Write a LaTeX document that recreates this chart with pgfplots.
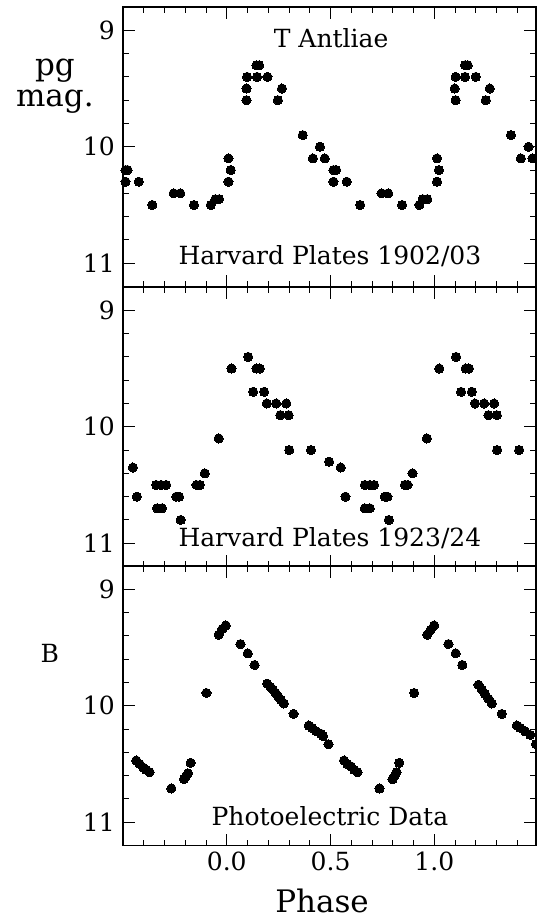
\documentclass[border=0pt]{standalone}
\usepackage{pgfplots}
\pgfplotsset{compat=1.18}
\usepackage{fontspec}
\setmainfont{DejaVu Serif}
\newcommand\bigf{\fontsize{25}{28}\selectfont}
\newcommand\hugef{\fontsize{31}{31}\selectfont}
\pgfplotsset{
  dots/.style={black, only marks, mark=*, mark size=4.6pt, mark options={fill=black, draw=black, line width=0pt}},
  panel/.style={
    scale only axis, width=413pt, height=279.5pt,
    xmin=-0.5, xmax=1.49, ymin=8.8, ymax=11.2, y dir=reverse,
    xtick={0,0.5,1},
    minor xtick={-0.4,-0.3,-0.2,-0.1,0.1,0.2,0.3,0.4,0.6,0.7,0.8,0.9,1.1,1.2,1.3,1.4},
    ytick={9,10,11},
    minor ytick={9.2,9.4,9.6,9.8,10.2,10.4,10.6,10.8},
    tick pos=both, tick align=inside,
    major tick length=12pt, minor tick length=6pt,
    every tick/.style={black, line width=0.9pt},
    axis line style={line width=1.6pt},
    xticklabel pos=lower, yticklabel pos=left,
    ticklabel style={font=\bigf},
    /pgf/number format/assume math mode=true,
    yticklabel style={inner sep=0pt, xshift=-8pt},
    xticklabel style={yshift=-3pt},
    clip mode=individual,
  },
}
\begin{document}
\begin{tikzpicture}
\useasboundingbox (0,0) rectangle (536pt,-920pt);
% Panel 1
\begin{axis}[panel, at={(123pt,-7pt)}, anchor=north west, xticklabels={}]
\addplot[dots] coordinates {
(-0.488,10.2) (-0.478,10.2) (-0.488,10.3) (-0.424,10.3) (-0.359,10.5) (-0.256,10.4) (-0.224,10.4) (-0.158,10.5) (-0.077,10.5) (-0.055,10.45) (-0.037,10.45) (0.008,10.3) (0.019,10.2) (0.008,10.1) (0.095,9.6) (0.095,9.5) (0.098,9.4) (0.143,9.3) (0.156,9.3) (0.146,9.4) (0.196,9.4) (0.246,9.6) (0.266,9.5) (0.366,9.9) (0.449,10.0) (0.415,10.1) (0.472,10.1) (0.514,10.2) (0.527,10.2) (0.514,10.3) (0.578,10.3) (0.643,10.5) (0.746,10.4) (0.778,10.4) (0.845,10.5) (0.928,10.5) (0.944,10.45) (0.966,10.45) (1.013,10.3) (1.022,10.2) (1.013,10.1) (1.103,9.6) (1.098,9.5) (1.103,9.4) (1.148,9.3) (1.161,9.3) (1.148,9.4) (1.200,9.4) (1.248,9.6) (1.267,9.5) (1.369,9.9) (1.454,10.0) (1.417,10.1) (1.473,10.1) (1.512,10.2)
};
\node[font=\bigf] at (rel axis cs:0.504,0.889) {T Antliae};
\node[font=\bigf] at (rel axis cs:0.501,0.107) {Harvard Plates 1902/03};
\node[font=\hugef, align=center, inner sep=0pt] at (rel axis cs:-0.165,0.718) {pg\\mag.};
\end{axis}
% Panel 2
\begin{axis}[panel, at={(123pt,-287pt)}, anchor=north west, xticklabels={}]
\addplot[dots] coordinates {
(-0.452,10.35) (-0.433,10.6) (-0.340,10.5) (-0.316,10.5) (-0.292,10.5) (-0.336,10.7) (-0.312,10.7) (-0.243,10.6) (-0.230,10.6) (-0.222,10.8) (-0.146,10.5) (-0.130,10.5) (-0.106,10.4) (-0.039,10.1) (0.023,9.5) (0.103,9.4) (0.143,9.5) (0.159,9.5) (0.127,9.7) (0.180,9.7) (0.193,9.8) (0.238,9.8) (0.287,9.8) (0.258,9.9) (0.298,9.9) (0.301,10.2) (0.406,10.2) (0.493,10.3) (0.549,10.35) (0.572,10.6) (0.665,10.5) (0.689,10.5) (0.710,10.5) (0.665,10.7) (0.689,10.7) (0.762,10.6) (0.774,10.6) (0.781,10.8) (0.858,10.5) (0.871,10.5) (0.895,10.4) (0.964,10.1) (1.024,9.5) (1.105,9.4) (1.151,9.5) (1.167,9.5) (1.129,9.7) (1.181,9.7) (1.196,9.8) (1.240,9.8) (1.288,9.8) (1.261,9.9) (1.301,9.9) (1.303,10.2) (1.409,10.2) (1.493,10.3)
};
\node[font=\bigf] at (rel axis cs:0.501,0.100) {Harvard Plates 1923/24};
\end{axis}
% Panel 3
\begin{axis}[panel, at={(123pt,-566pt)}, anchor=north west,
  xticklabel style={/pgf/number format/fixed, /pgf/number format/fixed zerofill, /pgf/number format/precision=1}]
\addplot[dots] coordinates {
(-0.436,10.47) (-0.420,10.50) (-0.403,10.53) (-0.388,10.55) (-0.372,10.57) (-0.267,10.71) (-0.206,10.63) (-0.195,10.60) (-0.187,10.58) (-0.174,10.49) (-0.098,9.89) (-0.039,9.39) (-0.021,9.34) (-0.005,9.31) (0.066,9.47) (0.101,9.55) (0.134,9.65) (0.195,9.81) (0.211,9.84) (0.222,9.86) (0.235,9.89) (0.248,9.92) (0.261,9.95) (0.275,9.98) (0.322,10.07) (0.395,10.17) (0.411,10.19) (0.432,10.22) (0.453,10.24) (0.464,10.26) (0.490,10.33) (0.565,10.47) (0.581,10.50) (0.598,10.52) (0.614,10.55) (0.630,10.57) (0.736,10.71) (0.799,10.63) (0.810,10.60) (0.818,10.57) (0.831,10.49) (0.903,9.89) (0.966,9.39) (0.982,9.35) (0.999,9.31) (1.068,9.47) (1.103,9.55) (1.135,9.65) (1.213,9.82) (1.229,9.86) (1.245,9.90) (1.261,9.94) (1.277,9.98) (1.325,10.07) (1.398,10.17) (1.414,10.19) (1.438,10.22) (1.462,10.25) (1.490,10.33)
};
\node[font=\bigf] at (rel axis cs:0.501,0.104) {Photoelectric Data};
\node[font=\bigf] at (rel axis cs:-0.177,0.689) {B};
\node[font=\hugef, anchor=base, inner sep=0pt] at (rel axis cs:0.482,-0.240) {Phase};
\end{axis}
\end{tikzpicture}
\end{document}
